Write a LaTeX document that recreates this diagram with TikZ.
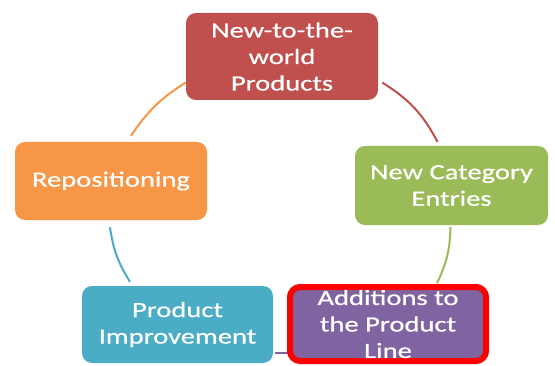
\documentclass[tikz,border=0pt]{standalone}
\usepackage{fontspec}
\setmainfont{Carlito}[FakeStretch=1.31,FakeBold=0.6]
\definecolor{cRed}{HTML}{C0504D}
\definecolor{cGreen}{HTML}{9BBB59}
\definecolor{cOrange}{HTML}{F79646}
\definecolor{cTeal}{HTML}{4BACC6}
\definecolor{cPurple}{HTML}{8064A2}
\definecolor{cBorder}{HTML}{FF0000}
\begin{document}
\begin{tikzpicture}[x=1pt,y=1pt,
  box/.style={rounded corners=10pt, inner sep=0pt, align=center,
    text=white, font=\fontsize{21.8}{26.5}\selectfont},
  link/.style={line width=2pt}]
\useasboundingbox (0,0) rectangle (555,365);

% cycle stages
\node[box, fill=cRed,    minimum width=192pt, minimum height=87pt] (top)  at (282,308.5) {New-to-the-\\world\\Products};
\node[box, fill=cGreen,  minimum width=193pt, minimum height=79pt] (cat)  at (451.5,179.5) {New Category\\Entries};
\node[box, fill=cOrange, minimum width=192pt, minimum height=78pt] (rep)  at (111,184) {Repositioning};
\node[box, fill=cTeal,   minimum width=191pt, minimum height=77pt] (imp)  at (177.5,40.5) {Product\\Improvement};

% arcs between the stages
\draw[link, cRed]    ([xshift=4pt,yshift=-26pt]top.east) to[bend left=15] ([xshift=-14pt,yshift=4pt]cat.north);
\draw[link, cGreen]  ([xshift=-1pt,yshift=-2pt]cat.south) to[bend left=12] ([xshift=-14.5pt,yshift=-58pt]cat.south);
\draw[link, cOrange] ([yshift=-26pt]top.west) to[bend right=12] ([xshift=20pt,yshift=6pt]rep.north);
\draw[link, cTeal]   ([xshift=-1pt,yshift=-7pt]rep.south) to[bend right=12] ([xshift=-47.5pt,yshift=4pt]imp.north);
\coordinate (addw) at (290,12);
\draw[link, cPurple] ([xshift=2pt,yshift=-28.5pt]imp.east) -- (addw);

% highlighted stage
\node[box, fill=cPurple, draw=cBorder, line width=6pt, minimum width=196pt, minimum height=74pt] (add) at (388,41) {Additions to\\the Product\\Line};
\end{tikzpicture}
\end{document}
